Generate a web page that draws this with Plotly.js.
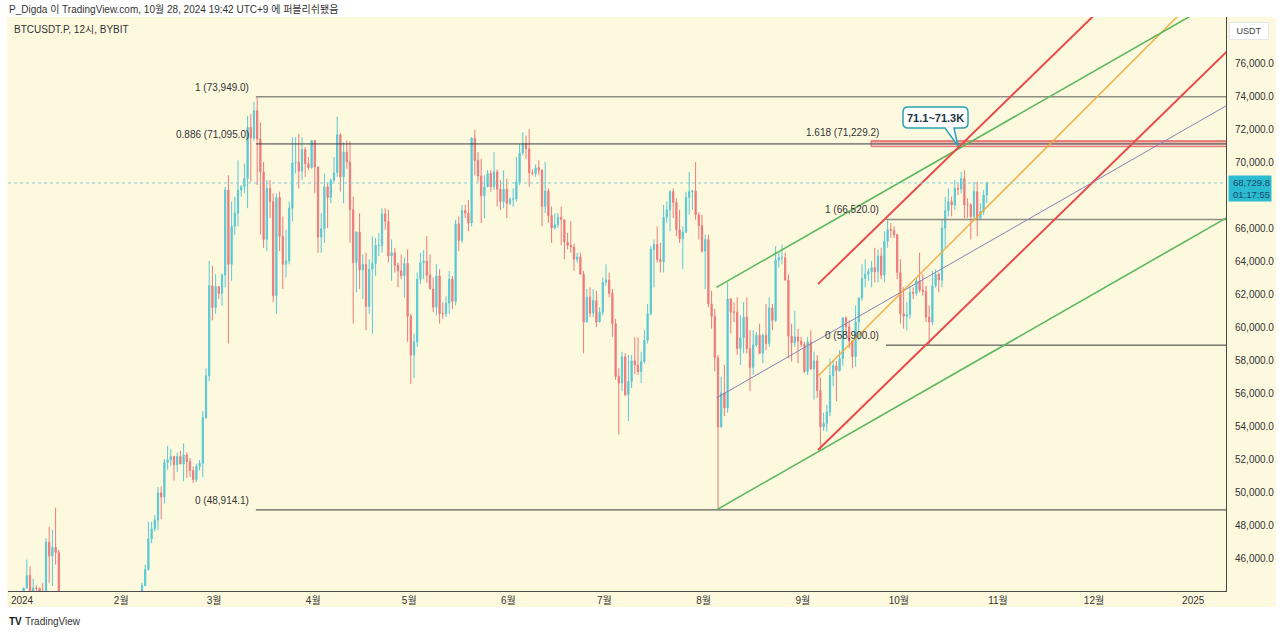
<!DOCTYPE html>
<html><head><meta charset="utf-8">
<script src="https://cdn.plot.ly/plotly-3.0.1.min.js"></script>
<style>html,body{margin:0;padding:0;background:#fff;}#chart{width:1280px;height:634px;}</style>
</head><body><div id="chart"></div>
<script>
// Daily OHLC (open, high, low, close), BTCUSDT.P 2024
const jan = [[42280,44180,42190,44180],[44180,45900,44150,44950],[44950,45500,40750,42850],[42850,44750,42650,44180],[44180,44350,42600,44160],[44160,44200,43400,43970],[43970,44500,43600,43930],[43930,47200,43200,46950],[46950,47900,44500,46120],[46120,47700,44300,46650],[46650,49050,45600,46340],[46340,46500,41500,42780],[42780,43250,42450,42840],[42840,43080,41700,41730],[41730,43400,41720,42510],[42510,43580,42050,43140],[43140,43200,42200,42750],[42750,42930,40700,41280],[41280,42200,40300,41620],[41620,41850,41400,41660],[41660,41900,41500,41580],[41580,41700,39450,39560],[39560,40180,38500,39900],[39900,40550,39500,40080],[40080,40300,39200,39940],[39940,42200,39800,41810],[41810,42200,41400,42120],[42120,42850,41650,42030],[42030,43300,41800,43300],[43300,43880,42700,42950],[42950,43750,42300,42580]];
const feb = [[42580,43500,41900,43080],[43080,43450,42600,43200],[43200,43380,42900,43010],[43010,43100,42300,42580],[42580,43500,42300,42700],[42700,43380,42600,43100],[43100,44500,42800,44330],[44330,45600,44300,45300],[45300,48200,45250,47150],[47150,48200,46900,47770],[47770,48600,47600,48300],[48300,50300,47700,49950],[49950,50350,48350,49700],[49700,52000,49300,51800],[51800,52800,51350,51950],[51950,52600,51600,52150],[52150,52200,50700,51650],[51650,52400,51200,52150],[52150,52500,51700,51700],[51700,52950,50650,52250],[52250,52400,50850,51850],[51850,52050,50900,51300],[51300,51550,50550,50750],[50750,51700,50600,51550],[51550,51950,51300,51750],[51750,54900,50900,54500],[54500,57500,54450,57050],[57050,64000,56700,62500],[62500,63700,60400,61180]];
const mar = [[61180,63200,60800,62450],[62450,62450,61700,62030],[62030,63250,61300,63150],[63150,68500,62400,68300],[68300,69200,59000,63800],[63800,67600,62800,66100],[66100,67900,65600,66900],[66900,70100,66100,68300],[68300,68600,67900,68500],[68500,69900,68100,69000],[69000,72800,67200,72100],[72100,72900,68800,71450],[71450,73650,71300,73100],[73100,73949,68600,71400],[71400,72400,65600,69400],[69400,70000,64800,65300],[65300,68900,64600,68400],[68400,68900,66600,67600],[67600,68100,61500,61900],[61900,68100,60800,67850],[67850,68200,64600,65500],[65500,66700,62300,63800],[63800,65900,63000,64000],[64000,67600,63800,67200],[67200,71500,66400,69950],[69950,71500,69300,69990],[69990,71700,68400,69450],[69450,71500,68900,70750],[70750,70900,69100,69900],[69900,70300,69500,69650],[69650,71300,69600,71300]];
const apr = [[71300,71300,68100,69700],[69700,69700,64500,65450],[65450,66900,64500,65950],[65950,69300,65100,68500],[68500,68700,66000,67850],[67850,69000,67500,68900],[68900,70300,68800,69350],[69350,72750,69100,71650],[71650,71750,68200,69100],[69100,71200,67500,70600],[70600,71300,69600,70000],[70000,71250,65100,67100],[67100,67900,60200,63900],[63900,65800,62100,65750],[65750,66900,62300,63450],[63450,64400,61700,63800],[63800,64500,59800,61250],[61250,64100,60800,63500],[63500,65500,59600,63850],[63850,65400,63100,64950],[64950,65700,64300,64950],[64950,67200,64500,66850],[66850,67200,65900,66400],[66400,67100,63900,64300],[64300,65300,62800,64500],[64500,64800,63300,63750],[63750,63900,62400,63400],[63400,64400,62900,63100],[63100,64200,61800,63850],[63850,64700,59100,60650]];
const may = [[60650,60800,56550,58300],[58300,59600,56900,59100],[59100,63300,58800,62900],[62900,64500,62600,63900],[63900,64650,62900,64000],[64000,65500,62700,63150],[63150,64400,62300,62300],[62300,63000,60900,61200],[61200,63800,60700,63100],[63100,63500,60200,60800],[60800,61500,60500,60800],[60800,61850,60600,61450],[61450,63400,60800,62900],[62900,63100,61100,61550],[61550,66500,61300,66250],[66250,66700,64600,65250],[65250,67400,65100,67050],[67050,67400,66600,66900],[66900,67700,65800,66300],[66300,71500,66100,71450],[71450,71950,69200,70100],[70100,70600,68800,69150],[69150,70200,66300,67950],[67950,69200,66600,68500],[68500,69500,68500,69300],[69300,69500,68200,68500],[68500,70600,68300,69400],[69400,69550,67300,68350],[68350,68900,67100,67600],[67600,69500,67200,68350],[68350,69000,66600,67500]];
const jun = [[67500,67850,67400,67750],[67750,68400,67300,67750],[67750,70300,67600,68800],[68800,71100,68600,70550],[70550,71800,70400,71100],[71100,71600,70200,70800],[70800,72000,68500,69350],[69350,69550,69200,69300],[69300,69850,69100,69650],[69650,70100,69200,69500],[69500,69550,66100,67300],[67300,70000,66900,68250],[68250,68400,66300,66750],[66750,67300,65100,66000],[66000,66900,65900,66200],[66200,66900,66000,66650],[66650,67300,64950,66500],[66500,66500,64100,65150],[65150,65700,64700,64950],[64950,66400,64500,64850],[64850,65050,63400,64100],[64100,64500,63900,64250],[64250,64500,63200,63200],[63200,63400,58400,60300],[60300,62300,60300,61800],[61800,62400,60600,60850],[60850,62300,60600,61600],[61600,62200,60000,60300],[60300,61200,60300,60900],[60900,63000,60700,62700]];
const jul = [[62700,63800,62500,62850],[62850,63300,61800,62050],[62050,62300,59400,60200],[60200,60500,56800,57000],[57000,57500,53500,56600],[56600,58500,56100,58200],[58200,58400,55800,55900],[55900,58300,54300,56700],[56700,58300,56300,57950],[57950,59400,57150,57700],[57700,59400,57100,57300],[57300,58500,56600,57900],[57900,59800,57800,59200],[59200,61400,59000,60800],[60800,64900,60700,64700],[64700,65300,62400,65000],[65000,66100,63900,64100],[64100,65100,63300,63950],[63950,67400,63300,66650],[66650,67600,66300,67100],[67100,68300,65800,68200],[68200,68400,66600,67550],[67550,67800,65500,65900],[65900,67100,65100,65350],[65350,66100,63500,65750],[65750,68200,65700,67850],[67850,69400,66800,68200],[68200,68300,67100,68250],[68250,70000,66500,66800],[66800,66950,65300,66150],[66150,66800,64500,64600]];
const aug = [[64600,65600,62300,65300],[65300,65600,61200,61400],[61400,62200,59900,60650],[60650,61100,57300,58150],[58150,58300,48914,53950],[53950,57000,53900,56000],[56000,57700,54600,55100],[55100,62700,54800,61700],[61700,61750,59600,60900],[60900,61500,60300,60900],[60900,61800,58300,58700],[58700,60700,57700,59350],[59350,61500,58400,60600],[60600,61800,58400,58700],[58700,59800,56100,57550],[57550,59800,57100,58900],[58900,59700,58800,59500],[59500,60200,58400,58400],[58400,59600,57800,59500],[59500,61400,58600,59000],[59000,61800,58800,61150],[61150,61400,59800,60400],[60400,64900,60300,64050],[64050,64500,63600,64200],[64200,65000,63800,64200],[64200,64500,62800,62850],[62850,63200,58100,59450],[59450,60200,57900,59050],[59050,61000,58800,59400],[59400,59900,57800,59150],[59150,59400,58800,58950]];
const sep = [[58950,59100,57200,57300],[57300,59400,57100,59100],[59100,59800,57400,57450],[57450,58500,55600,57950],[57950,58300,55700,56150],[56150,56950,52545,53950],[53950,54800,53700,54150],[54150,55300,53650,54850],[54850,58100,54600,57050],[57050,58000,56400,57650],[57650,57950,55500,57350],[57350,58600,57300,58100],[58100,60600,57650,60550],[60550,60650,59500,60000],[60000,60400,58700,59150],[59150,59200,57500,58200],[58200,61300,57600,60300],[60300,61800,59200,61750],[61750,63800,61600,62950],[62950,64100,62400,63200],[63200,63550,62800,63350],[63350,64000,62400,63600],[63600,64800,62700,63350],[63350,64700,62700,64300],[64300,64800,62900,63150],[63150,65800,62700,65200],[65200,66520,64800,65900],[65900,66300,65400,65850],[65850,66100,65400,65600],[65600,65650,62900,63300]];
const oct = [[63300,64100,60200,60800],[60800,62400,59900,60650],[60650,61500,59800,60750],[60750,62500,60500,62100],[62100,62400,61700,62050],[62050,63000,61900,62800],[62800,64500,62100,62250],[62250,63200,61900,62150],[62150,62500,60300,60600],[60600,61300,58900,60300],[60300,63400,60100,62500],[62500,63500,62400,63200],[63200,63300,62100,62850],[62850,66500,62400,66000],[66000,67900,64800,67050],[67050,68400,66700,67600],[67600,67900,66700,67400],[67400,68900,67100,68400],[68400,68700,68000,68350],[68350,69400,68100,69000],[69000,69500,66600,67400],[67400,67800,66600,67400],[67400,67500,65300,66700],[66700,68800,66500,68200],[68200,68800,65500,66600],[66600,67500,66500,67000],[67000,68300,66800,68000],[68000,68800,67500,68729.8]];

const firstDay = '2024-01-01';
const lastPrice = 68729.8;
const priceTicks = [46000,48000,50000,52000,54000,56000,58000,60000,62000,64000,66000,70000,72000,74000,76000];
const monthTickDates = ['2024-01-01','2024-02-01','2024-03-01','2024-04-01','2024-05-01','2024-06-01','2024-07-01','2024-08-01','2024-09-01','2024-10-01','2024-11-01','2024-12-01','2025-01-01'];
const monthTickText = ['2024','2월','3월','4월','5월','6월','7월','8월','9월','10월','11월','12월','2025'];

// Fibonacci retracements: [level, price]
const fibAStart = '2024-03-14 02:00';
const fibALevels = [[1,73949.0],[0.886,71095.0],[0,48914.1]];
const fibBStart = '2024-09-27 00:00';
const fibBLevels = [[1.618,71229.2],[1,66520.0],[0,58900.0]];

// Trend lines: two anchor points each [date, price]
const greenLow  = [['2024-08-05 00:00',48914],['2025-01-11 06:00',66600]];
const greenHigh = [['2024-08-05 00:00',62400],['2024-12-31 00:00',78830]];
const purpleMid = [['2024-08-05 00:00',55700],['2025-01-11 06:00',73400]];
const redHigh   = [['2024-09-05 18:00',62600],['2024-11-30 00:00',78700]];
const redLow    = [['2024-09-05 18:00',52545],['2025-01-11 06:00',76640]];
const orangeMid = [['2024-09-05 18:00',57030],['2024-12-26 00:00',78610]];

// Target zone
const zoneStart = '2024-09-22 08:00';
const zoneLow = 70930, zoneHigh = 71290;
const calloutAt = ['2024-10-19 12:00', 70970];
const calloutText = '71.1~71.3K';

// ---------- build ----------
const all = [].concat(jan,feb,mar,apr,may,jun,jul,aug,sep,oct);
const t0 = Date.parse(firstDay + 'T12:00:00Z');
const pad = n => String(n).padStart(2,'0');
const fmt = ms => { const d = new Date(ms); return d.getUTCFullYear()+'-'+pad(d.getUTCMonth()+1)+'-'+pad(d.getUTCDate())+' '+pad(d.getUTCHours())+':'+pad(d.getUTCMinutes()); };
const xs = all.map((_,i)=>fmt(t0 + i*86400000));

const trace = {
  type:'candlestick', x: xs,
  open: all.map(r=>r[0]), high: all.map(r=>r[1]), low: all.map(r=>r[2]), close: all.map(r=>r[3]),
  increasing:{line:{color:'#5cc9d4',width:1}, fillcolor:'#5cc9d4'},
  decreasing:{line:{color:'#ee7b7b',width:1}, fillcolor:'#ee7b7b'},
  whiskerwidth:0, hoverinfo:'skip', showlegend:false
};

const toMs = s => Date.parse(s.replace(' ','T')+':00Z');
const farEnd = toMs('2025-03-01 00:00');
function ray(pts, color, width){
  const [a,b] = pts; const ta=toMs(a[0]), tb=toMs(b[0]);
  const slope = (b[1]-a[1])/(tb-ta);
  return {type:'line', xref:'x', yref:'y', x0:a[0], y0:a[1], x1:fmt(farEnd), y1:a[1]+slope*(farEnd-ta), line:{color, width}};
}
const FONT = 'Arial, "Liberation Sans", "Noto Sans CJK KR", sans-serif';
const fmtP = p => p.toLocaleString('en-US',{minimumFractionDigits:1,maximumFractionDigits:1});
const shapes = [];
const annotations = [];
// background of the chart pane incl. axes
shapes.push({type:'rect', xref:'paper', yref:'paper', x0:-0.001, x1:1.041, y0:-0.028, y1:1, fillcolor:'#fdf9df', line:{width:0}, layer:'below'});
// zone box (under fib lines)
shapes.push({type:'rect', xref:'x', yref:'y', x0:zoneStart, x1:fmt(farEnd), y0:zoneLow, y1:zoneHigh, fillcolor:'rgba(244,170,170,0.6)', line:{color:'#e06a6a', width:1}});
shapes.push({type:'line', xref:'x', yref:'y', x0:zoneStart, x1:fmt(farEnd), y0:71229.2, y1:71229.2, line:{color:'#e06a6a', width:1}});
// fib A
fibALevels.forEach(([lv,p],i)=>{
  shapes.push({type:'line', xref:'x', yref:'y', x0:fibAStart, x1:fmt(farEnd), y0:p, y1:p, line:{color: i===0?'#8d8d82':'#3a3a3a', width: i===0?1.5:1}});
  annotations.push({x:fibAStart, y:p, xref:'x', yref:'y', text: lv+' ('+fmtP(p)+')', showarrow:false, xanchor:'right', yanchor:'bottom', xshift:-5, yshift:2, font:{family:FONT,size:10,color:'#333'}});
});
fibBLevels.forEach(([lv,p],i)=>{
  if(i>0) shapes.push({type:'line', xref:'x', yref:'y', x0:fibBStart, x1:fmt(farEnd), y0:p, y1:p, line:{color: i===1?'#8d8d82':'#3a3a3a', width: i===1?1.5:1}});
  annotations.push({x:fibBStart, y:p, xref:'x', yref:'y', text: lv+' ('+fmtP(p)+')', showarrow:false, xanchor:'right', yanchor:'bottom', xshift:-5, yshift:2, font:{family:FONT,size:10,color:'#333'}});
});
// trend lines
shapes.push(ray(purpleMid,'#8583b8',1));
shapes.push(ray(orangeMid,'#f2a93b',1.3));
shapes.push(ray(greenLow,'#5cb85c',1.6));
shapes.push(ray(greenHigh,'#5cb85c',1.6));
shapes.push(ray(redLow,'#e84a4a',2));
shapes.push(ray(redHigh,'#e84a4a',2));
// current price dotted line
shapes.push({type:'line', xref:'paper', yref:'y', x0:0, x1:1, y0:lastPrice, y1:lastPrice, line:{color:'#7ccfd9', width:1, dash:'dot'}});
// callout bubble
shapes.push({type:'path', xref:'x', yref:'y', xsizemode:'pixel', ysizemode:'pixel', xanchor:calloutAt[0], yanchor:calloutAt[1],
  path:'M -50,39 L 5,39 Q 10,39 10,34 L 10,23 Q 10,18 5,18 L -4,18 L 0,0 L -13,18 L -50,18 Q -55,18 -55,23 L -55,34 Q -55,39 -50,39 Z',
  fillcolor:'#ffffff', line:{color:'#2aa3b5', width:1.5}});
annotations.push({x:calloutAt[0], y:calloutAt[1], xref:'x', yref:'y', text:'<b>'+calloutText+'</b>', showarrow:false, xshift:-22.5, yshift:28.5, font:{family:FONT,size:11,color:'#1e3442'}});
// texts
annotations.push({xref:'paper', yref:'paper', x:-0.0008, y:1.0122, xanchor:'left', yanchor:'middle', showarrow:false, text:'P_Digda 이 TradingView.com, 10월 28, 2024 19:42 UTC+9 에 퍼블리쉬됐음', font:{family:FONT,size:10,color:'#333'}});
annotations.push({xref:'paper', yref:'paper', x:0.0033, y:0.979, xanchor:'left', yanchor:'middle', showarrow:false, text:'BTCUSDT.P, 12시, BYBIT', font:{family:FONT,size:10,color:'#333'}});
annotations.push({xref:'paper', yref:'paper', x:1.0189, y:0.9756, xanchor:'center', yanchor:'middle', showarrow:false, text:'USDT', font:{family:FONT,size:9,color:'#444'}, bgcolor:'#ffffff', bordercolor:'#e6e6e6', borderwidth:1, borderpad:3, width:32});
annotations.push({xref:'paper', yref:'y', x:1.0016, y:lastPrice, xanchor:'left', yanchor:'top', yshift:8, showarrow:false, text:fmtP(lastPrice)+'<br>01:17:55', align:'right', font:{family:FONT,size:9.5,color:'#17466f'}, bgcolor:'#2bbcd0', borderpad:1, width:40});
annotations.push({xref:'paper', yref:'paper', x:-0.0005, y:-0.0523, xanchor:'left', yanchor:'middle', showarrow:false, text:'<b>TV</b>', font:{family:FONT,size:10,color:'#131722'}});
annotations.push({xref:'paper', yref:'paper', x:0.0125, y:-0.0523, xanchor:'left', yanchor:'middle', showarrow:false, text:'TradingView', font:{family:FONT,size:10,color:'#333'}});

const layout = {
  width:1280, height:634, margin:{l:8,r:54,t:17,b:43},
  paper_bgcolor:'#ffffff', plot_bgcolor:'#fdf9df',
  showlegend:false, hovermode:false, boxgap:0.45,
  font:{family:FONT,size:10,color:'#333'},
  xaxis:{type:'date', range:['2023-12-27 15:00','2025-01-11 06:00'], rangeslider:{visible:false}, showgrid:false, zeroline:false,
    tickvals:monthTickDates, ticktext:monthTickText, ticks:'', tickfont:{family:FONT,size:10,color:'#333'},
    showline:true, linecolor:'#4a4a4a', linewidth:1, fixedrange:true},
  yaxis:{side:'right', range:[44000,78788], showgrid:false, zeroline:false, tickvals:priceTicks, tickformat:',.1f', ticks:'', ticklabelstandoff:6,
    tickfont:{family:FONT,size:10,color:'#333'}, showline:true, linecolor:'#4a4a4a', linewidth:1, fixedrange:true},
  shapes, annotations
};
Plotly.newPlot('chart',[trace],layout,{displayModeBar:false, staticPlot:true});
</script>
</body></html>
